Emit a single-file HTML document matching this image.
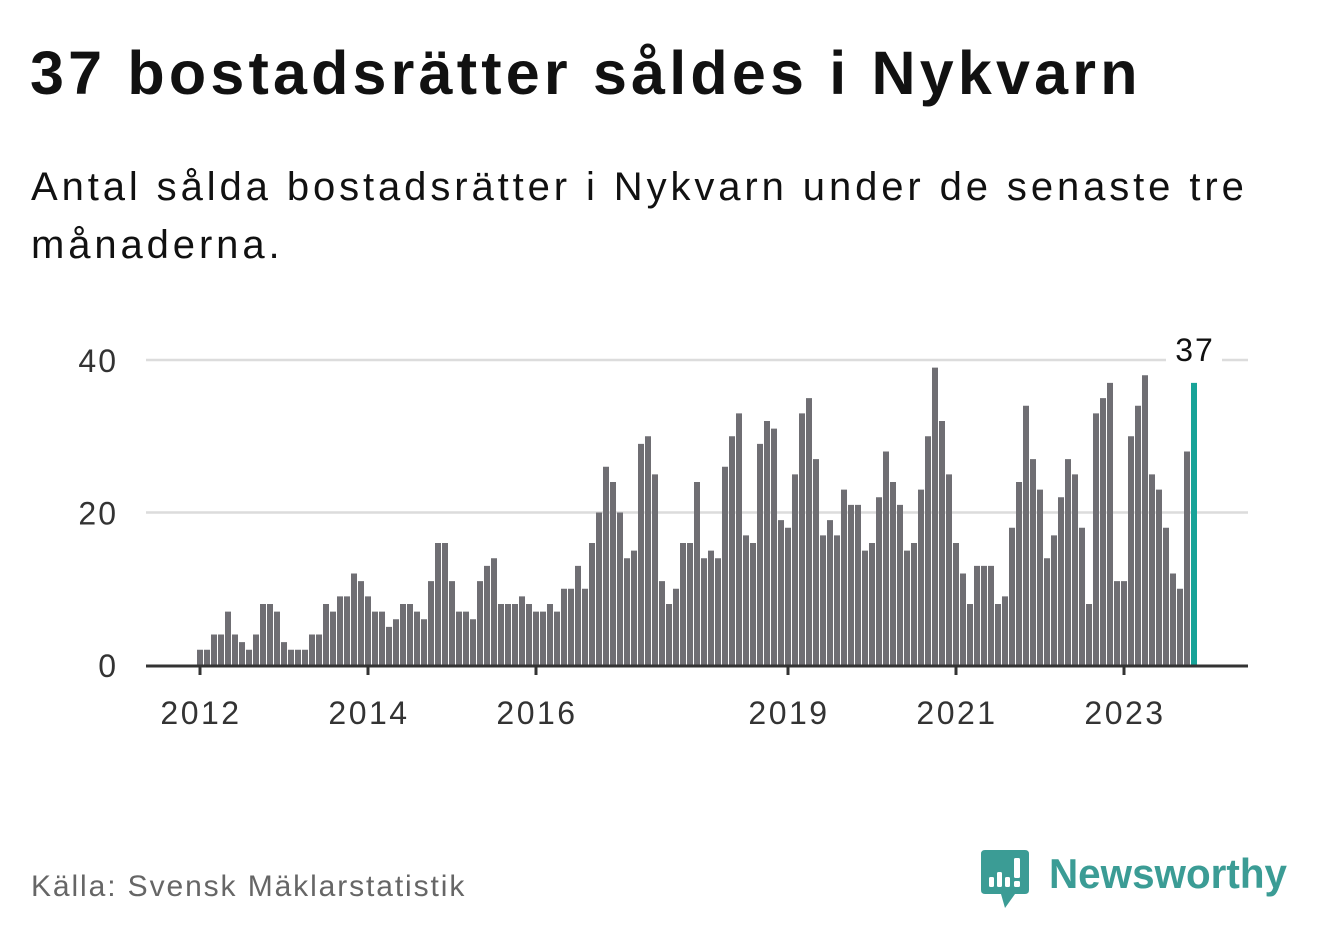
<!DOCTYPE html>
<html><head><meta charset="utf-8">
<style>
html,body{margin:0;padding:0;background:#fff;}
body{width:1322px;height:939px;position:relative;overflow:hidden;font-family:"Liberation Sans","DejaVu Sans",sans-serif;}
#title{position:absolute;left:30px;top:38px;font-size:61px;font-weight:bold;color:#111;margin:0;letter-spacing:4.2px;white-space:nowrap;}
#subtitle{position:absolute;left:31px;top:158px;width:1270px;font-size:40px;line-height:58px;color:#111;margin:0;letter-spacing:3.9px;}
#source{position:absolute;left:31px;top:870px;font-size:30px;color:#666;letter-spacing:1.9px;}
#logo{position:absolute;left:981px;top:850px;}
</style></head><body>
<h1 id="title">37 bostadsrätter såldes i Nykvarn</h1>
<p id="subtitle">Antal sålda bostadsrätter i Nykvarn under de senaste tre månaderna.</p>
<svg id="chart" width="1322" height="939" style="position:absolute;left:0;top:0" xmlns="http://www.w3.org/2000/svg"></svg>
<div id="source">Källa: Svensk Mäklarstatistik</div>
<svg id="logo" width="320" height="62" xmlns="http://www.w3.org/2000/svg">
  <path d="M4 0 H44 Q48 0 48 4 V40 Q48 44 44 44 H34 L24 58 L20 44 H4 Q0 44 0 40 V4 Q0 0 4 0Z" fill="#3b9c95"/>
  <rect x="8" y="27" width="5" height="10" rx="1.5" fill="#fff"/>
  <rect x="16" y="22" width="5" height="15" rx="1.5" fill="#fff"/>
  <rect x="24" y="27" width="5" height="10" rx="1.5" fill="#fff"/>
  <rect x="33" y="8" width="6" height="20" rx="1.5" fill="#fff"/>
  <rect x="33" y="31" width="6" height="6" rx="1.5" fill="#fff"/>
  <text x="68" y="38" font-size="42" font-weight="bold" fill="#3b9c95" textLength="238" lengthAdjust="spacingAndGlyphs" font-family="Liberation Sans, sans-serif">Newsworthy</text>
</svg>
<script>
const values = [2,2,4,4,7,4,3,2,4,8,8,7,3,2,2,2,4,4,8,7,9,9,12,11,9,7,7,5,6,8,8,7,6,11,16,16,11,7,7,6,11,13,14,8,8,8,9,8,7,7,8,7,10,10,13,10,16,20,26,24,20,14,15,29,30,25,11,8,10,16,16,24,14,15,14,26,30,33,17,16,29,32,31,19,18,25,33,35,27,17,19,17,23,21,21,15,16,22,28,24,21,15,16,23,30,39,32,25,16,12,8,13,13,13,8,9,18,24,34,27,23,14,17,22,27,25,18,8,33,35,37,11,11,30,34,38,25,23,18,12,10,28,37];
const yTicks = [0,20,40];
const xTickLabels = ["2012","2014","2016","2019","2021","2023"];
const xTickIndex = [0,24,48,84,108,132];
const lastLabel = "37";

const svg = document.getElementById('chart');
const NS = 'http://www.w3.org/2000/svg';
const x0 = 200, step = 7, y0 = 665, yMax = 40, yTop = 360;
const xPos = i => x0 + step * i;
const yPos = v => y0 - (y0 - yTop) * v / yMax;
function mk(tag, attrs){const e=document.createElementNS(NS,tag);for(const k in attrs)e.setAttribute(k,attrs[k]);svg.appendChild(e);return e;}

yTicks.forEach(t=>{
  if(t>0){
    const g=mk('line',{x1:146,x2:1248,y1:yPos(t),y2:yPos(t),stroke:'#dcdcdc','stroke-width':2.5});
    
    
  }
  const lb=mk('text',{x:118,y:yPos(t)+12,'text-anchor':'end','font-size':32,'letter-spacing':2,fill:'#333','font-family':'Liberation Sans, sans-serif'});
  lb.textContent=t;
  
  
});

values.forEach((v,i)=>{
  const last = i===values.length-1;
  const r=mk('rect',{x:xPos(i)-3,y:yPos(v),width:6,height:y0-yPos(v),fill:last?'#17a398':'#6f6e73'});
  
  
});

const ax=mk('line',{x1:146,x2:1248,y1:y0+1,y2:y0+1,stroke:'#333','stroke-width':3});



xTickIndex.forEach((idx,k)=>{
  const t=mk('line',{x1:xPos(idx),x2:xPos(idx),y1:y0,y2:y0+10,stroke:'#333','stroke-width':3});
  
  
  const lb=mk('text',{x:xPos(idx)+1,y:724,'text-anchor':'middle','font-size':32,'letter-spacing':2.5,fill:'#333','font-family':'Liberation Sans, sans-serif'});
  lb.textContent=xTickLabels[k];
  
  
});

const li=values.length-1;
const bg=mk('rect',{x:xPos(li)-28,y:332,width:56,height:34,fill:'#fff'});


const vl=mk('text',{x:xPos(li)+1,y:361,'text-anchor':'middle','font-size':32,'letter-spacing':2,fill:'#111','font-family':'Liberation Sans, sans-serif'});
vl.textContent=lastLabel;


</script>
</body></html>
